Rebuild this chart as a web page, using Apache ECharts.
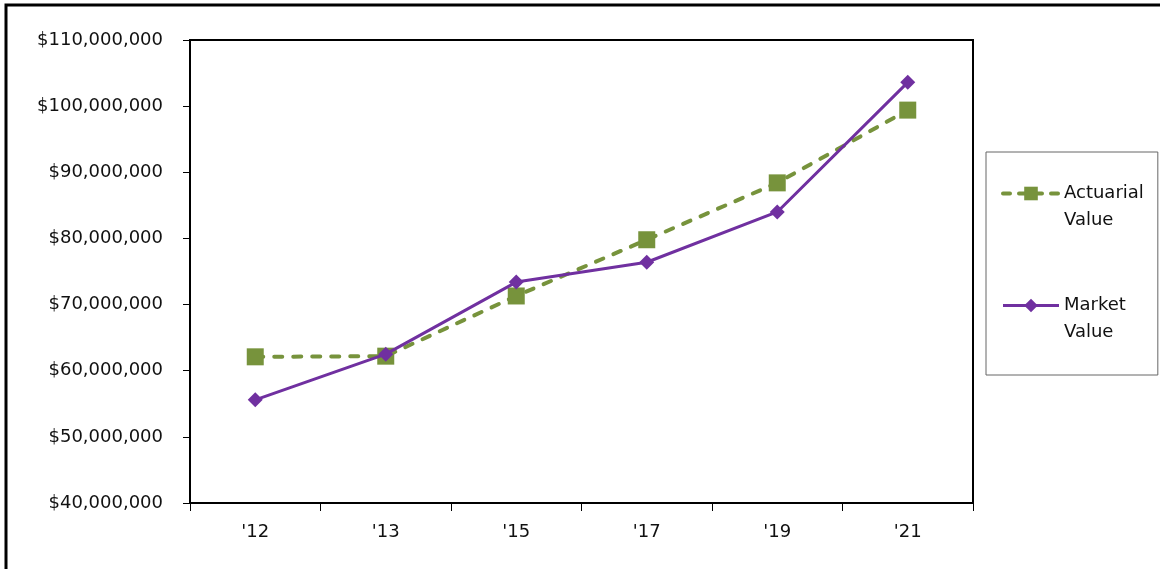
<!DOCTYPE html>
<html>
<head>
<meta charset="utf-8">
<title>Actuarial vs Market Value</title>
<script src="https://cdn.jsdelivr.net/npm/echarts@6/dist/echarts.min.js"></script>
<style>
  html, body { margin: 0; padding: 0; background: #fff; }
  #chart { width: 1160px; height: 569px; }
</style>
</head>
<body>
<div id="chart"></div>
<script>
// Plan years and asset values (dollars)
const years = ["'12", "'13", "'15", "'17", "'19", "'21"];
const actuarialValue = [62100000, 62200000, 71300000, 79800000, 88400000, 99400000];
const marketValue = [55600000, 62500000, 73400000, 76400000, 84000000, 103600000];
const seriesNames = ['Actuarial\nValue', 'Market\nValue'];

const FONT = '"DejaVu Sans", Verdana, sans-serif';
const GREEN = '#77933C';
const PURPLE = '#7030A0';
const chart = echarts.init(document.getElementById('chart'));

const money = v => '$' + Number(v).toLocaleString('en-US');

chart.setOption({
  backgroundColor: '#ffffff',
  animation: false,
  textStyle: { fontFamily: FONT },
  graphic: [{
    type: 'rect',
    shape: { x: 6, y: 5, width: 1300, height: 700 },
    style: { fill: 'none', stroke: '#000', lineWidth: 3 },
    silent: true
  }],
  grid: {
    left: 190, top: 40, right: 187, bottom: 66,
    show: true, borderColor: '#000', borderWidth: 2, backgroundColor: 'transparent'
  },
  legend: {
    orient: 'vertical',
    left: 986, top: 152,
    padding: [1, 14, 29, 15],
    itemWidth: 56, itemHeight: 17,
    itemGap: 31,
    borderColor: '#666', borderWidth: 1,
    // a blank leading line keeps the icon level with the first line of each name
    formatter: name => ' \n' + name,
    textStyle: { fontFamily: FONT, fontSize: 18, color: '#111', lineHeight: 27 },
    data: [
      { name: seriesNames[0], lineStyle: { width: 4, type: [7, 9], cap: 'round', color: GREEN } },
      { name: seriesNames[1], lineStyle: { width: 3, color: PURPLE } }
    ]
  },
  xAxis: {
    type: 'category',
    data: years,
    boundaryGap: true,
    axisLine: { lineStyle: { color: '#000', width: 2 } },
    axisTick: { show: true, length: 8, lineStyle: { color: '#000', width: 1 } },
    axisLabel: { color: '#111', fontSize: 18, fontFamily: FONT, margin: 20 }
  },
  yAxis: {
    type: 'value',
    min: 40000000, max: 110000000, interval: 10000000,
    splitLine: { show: false },
    axisLine: { show: true, lineStyle: { color: '#000', width: 2 } },
    axisTick: { show: true, length: 7, lineStyle: { color: '#000', width: 1 } },
    axisLabel: { color: '#111', fontSize: 18, fontFamily: FONT, margin: 27, formatter: money }
  },
  series: [
    {
      name: seriesNames[0],
      type: 'line',
      data: actuarialValue,
      symbol: 'rect', symbolSize: 17,
      itemStyle: { color: GREEN },
      lineStyle: { color: GREEN, width: 4, type: [8, 11], cap: 'round' },
      z: 2
    },
    {
      name: seriesNames[1],
      type: 'line',
      data: marketValue,
      symbol: 'diamond', symbolSize: 15,
      itemStyle: { color: PURPLE },
      lineStyle: { color: PURPLE, width: 3 },
      z: 3
    }
  ]
});
</script>
</body>
</html>
